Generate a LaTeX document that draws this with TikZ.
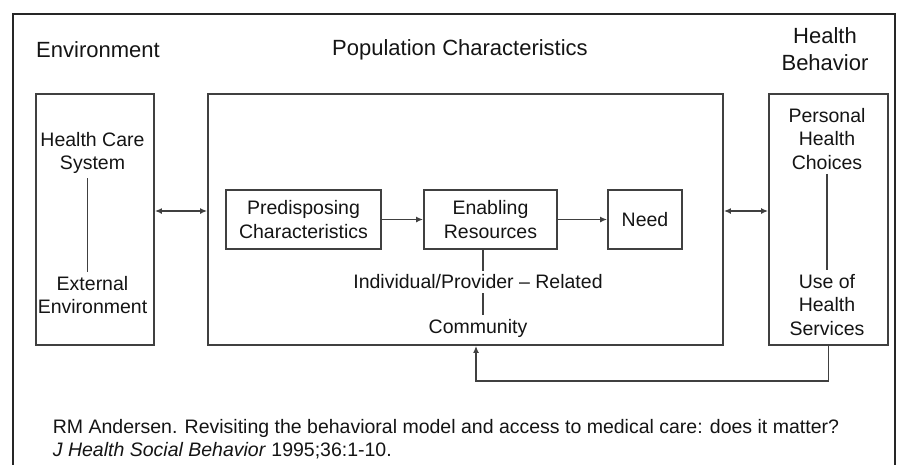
\documentclass[tikz,border=0pt]{standalone}
\usepackage{fontspec}
\setmainfont{Liberation Sans}
\usetikzlibrary{arrows.meta}
\begin{document}
\begin{tikzpicture}[x=1pt,y=-1pt,line width=1.8pt,color=black!75,>={Latex[length=7pt,width=6pt]},
  every node/.style={font=\fontsize{19.5}{23.5}\selectfont,align=center,text=black!92},
  box/.style={draw,inner sep=0pt},
  head/.style={font=\fontsize{22}{26.5}\selectfont}]
\useasboundingbox (0,0) rectangle (898,464);
\draw[line width=2pt,black!85] (13,470) -- (13,14) -- (895,14) -- (895,470);

\node[head] (tenv) at (98,50) {Environment};
\node[head] (tpop) at (460,50) {Population Characteristics};
\node[head] (thb) at (825,49) {Health\\Behavior};

\node[box,minimum width=118pt,minimum height=251pt] (env) at (95,219.5) {};
\node[box,minimum width=515pt,minimum height=251pt] (pop) at (465.5,219.5) {};
\node[box,minimum width=119pt,minimum height=251pt] (hb) at (828.5,219.5) {};

\node[box,minimum width=155pt,minimum height=59pt] (pred) at (303.5,219.5) {Predisposing\\Characteristics};
\node[box,minimum width=133pt,minimum height=59pt] (enab) at (490.5,219.5) {Enabling\\Resources};
\node[box,minimum width=74pt,minimum height=59pt] (need) at (645,219.5) {Need};
\draw[->] (pred) -- (enab);
\draw[->] (enab) -- (need);

\node (hcs) at (92.5,153) {Health Care\\System};
\node (ext) at (92.5,295) {External\\Environment};
\draw ([xshift=-5pt]hcs.south) -- ([xshift=-5pt]ext.north);

\node (indiv) at (478,282) {Individual/Provider -- Related};
\node (comm) at (478,328) {Community};
\draw ([xshift=5pt]indiv.north |- enab.south) -- ([xshift=5pt]indiv.north);
\draw ([xshift=5pt]indiv.south) -- ([xshift=5pt]comm.north);

\node (phc) at (827,139) {Personal\\Health\\Choices};
\node (uhs) at (827,305) {Use of\\Health\\Services};
\draw (phc) -- (uhs);

\draw[<->] ([yshift=8.5pt]env.east) -- ([yshift=8.5pt]pop.west);
\draw[<->] ([yshift=8.5pt]pop.east) -- ([yshift=8.5pt]hb.west);

\coordinate (fb) at (476,381);
\draw[->] (hb.south) |- (fb) -- (fb |- pop.south);

\node[anchor=west,align=left,inner sep=0pt] (cite) at (52,439) {RM Andersen. Revisiting the behavioral model and access to medical care: does it matter?\\\textit{J Health Social Behavior} 1995;36:1-10.};
\end{tikzpicture}
\end{document}
